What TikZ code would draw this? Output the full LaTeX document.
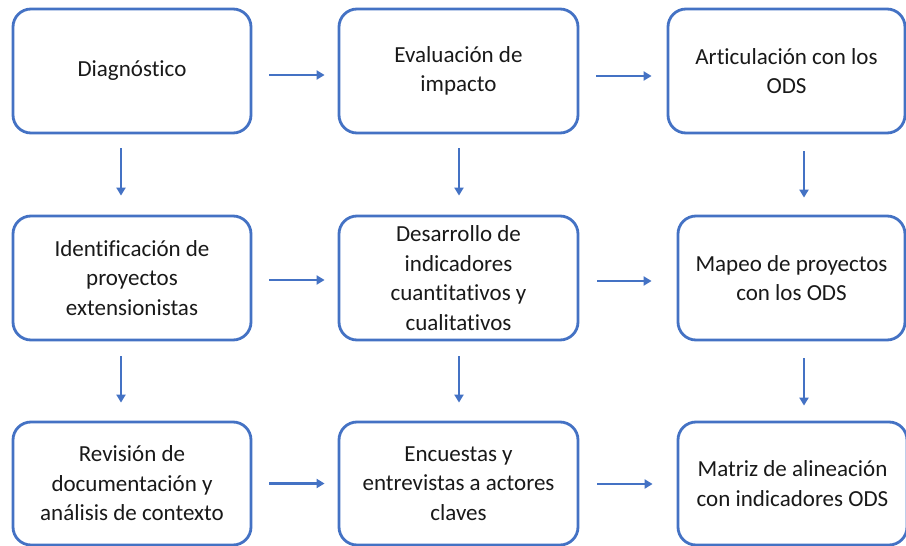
\documentclass[tikz,border=0pt]{standalone}
\usepackage{fontspec}
\setmainfont{Carlito}[Ligatures={NoCommon}]
\usetikzlibrary{arrows.meta}
\definecolor{obl}{HTML}{4472C4}
\begin{document}
\begin{tikzpicture}[x=1pt,y=-1pt,
  stepbox/.style={draw=obl, line width=2.8pt, rounded corners=18pt, fill=white,
    align=center, font=\fontsize{23}{29.5}\selectfont, inner sep=0pt, text=black!90},
  arr/.style={draw=obl, line width=2.5pt, -{Triangle[length=8pt,width=9pt]}}]
\useasboundingbox (0,0) rectangle (906,546);
% row 1
\node[stepbox, minimum width=238pt, minimum height=124pt] (b1) at (132,71) {Diagnóstico};
\node[stepbox, minimum width=239pt, minimum height=124pt] (b2) at (458.5,71) {Evaluación de\\impacto};
\node[stepbox, minimum width=237pt, minimum height=124pt] (b3) at (786.5,71) {Articulación con los\\ODS};
% row 2
\node[stepbox, minimum width=238pt, minimum height=124pt] (b4) at (132,278) {Identificación de\\proyectos\\extensionistas};
\node[stepbox, minimum width=239pt, minimum height=124pt] (b5) at (458.5,278) {Desarrollo de\\indicadores\\cuantitativos y\\cualitativos};
\node[stepbox, minimum width=227pt, minimum height=124pt] (b6) at (791.5,278) {Mapeo de proyectos\\con los ODS};
% row 3
\node[stepbox, minimum width=238pt, minimum height=123pt] (b7) at (132,483.5) {Revisión de\\documentación y\\análisis de contexto};
\node[stepbox, minimum width=239pt, minimum height=123pt] (b8) at (458.5,483.5) {Encuestas y\\entrevistas a actores\\claves};
\node[stepbox, minimum width=229pt, minimum height=123pt] (b9) at (792.5,483.5) {Matriz de alineación\\con indicadores ODS};
% horizontal arrows
\draw[arr] ([xshift=17pt,yshift=-4pt]b1.east) -- ([xshift=-13pt,yshift=-4pt]b2.west);
\draw[arr] ([xshift=17pt,yshift=-5pt]b2.east) -- ([xshift=-15pt,yshift=-5pt]b3.west);
\draw[arr] ([xshift=17pt,yshift=-2pt]b4.east) -- ([xshift=-13pt,yshift=-2pt]b5.west);
\draw[arr] ([xshift=18pt,yshift=-3pt]b5.east) -- ([xshift=-25pt,yshift=-3pt]b6.west);
\draw[arr] ([xshift=17pt,yshift=0pt]b7.east) -- ([xshift=-13pt,yshift=0pt]b8.west);
\draw[arr] ([xshift=18pt,yshift=-0.5pt]b8.east) -- ([xshift=-24pt,yshift=-0.5pt]b9.west);
% vertical arrows
\draw[arr] ([xshift=-11pt,yshift=-14pt]b1.south) -- ([xshift=-11pt,yshift=19pt]b4.north);
\draw[arr] ([xshift=0.5pt,yshift=-14pt]b2.south) -- ([xshift=0.5pt,yshift=19pt]b5.north);
\draw[arr] ([xshift=17.5pt,yshift=-17pt]b3.south) -- ([xshift=12.5pt,yshift=17pt]b6.north);
\draw[arr] ([xshift=-11pt,yshift=-15pt]b4.south) -- ([xshift=-11pt,yshift=18pt]b7.north);
\draw[arr] ([xshift=0.5pt,yshift=-15pt]b5.south) -- ([xshift=0.5pt,yshift=18pt]b8.north);
\draw[arr] ([xshift=12.5pt,yshift=-17pt]b6.south) -- ([xshift=11.5pt,yshift=15pt]b9.north);
\end{tikzpicture}
\end{document}
